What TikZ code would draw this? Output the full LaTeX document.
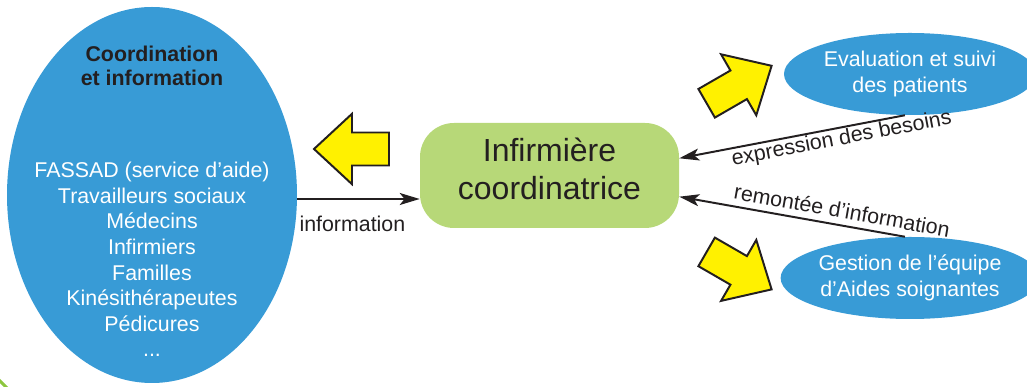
\documentclass[tikz,border=0pt]{standalone}
\usepackage{fontspec}
\setmainfont{Liberation Sans}
\usetikzlibrary{arrows.meta,shapes.geometric}
\definecolor{bleu}{RGB}{56,155,214}
\definecolor{vert}{RGB}{183,216,120}
\definecolor{jaune}{RGB}{255,241,0}
\definecolor{texte}{RGB}{35,31,32}
\definecolor{cadre}{RGB}{141,198,63}
\begin{document}
\begin{tikzpicture}[
	bulle/.style={ellipse, fill=bleu, inner sep=0pt, text=white, align=center, font=\fontsize{15.2pt}{18.5pt}\selectfont},
	titre/.style={anchor=north, inner sep=0pt, text=texte, align=center, font=\fontsize{15.2pt}{17.1pt}\selectfont\bfseries},
	liste/.style={anchor=north, inner sep=0pt, text=white, align=center, font=\fontsize{15.2pt}{18.2pt}\selectfont},
	boite/.style={rectangle, rounded corners=0.85cm, fill=vert, text=texte, align=center, minimum width=6.475cm, minimum height=2.625cm, font=\fontsize{22.75pt}{27.2pt}\selectfont},
	lien/.style={-{Stealth[length=0.5cm, width=0.3cm, inset=0.12cm]}, line width=1.4pt, texte},
	etiquette/.style={inner sep=2pt, text=texte, font=\fontsize{15.2pt}{18pt}\selectfont},
	grossefleche/.style={draw=texte, fill=jaune, line width=1.4pt, line join=miter}
	]
	\path[use as bounding box, clip] (0,0) rectangle (25.675,9.675);
	\draw[cadre, line width=0.075cm] (-0.05,0.2) -- (0.2,-0.05);
	\node[bulle, minimum width=7.25cm, minimum height=9.4cm] (coord) at (3.8,4.8) {};
	\node[titre] (titre) at (3.8,8.525) {Coordination\\et information};
	\node[liste] (membres) at (3.8,5.625) {FASSAD (service d’aide)\\Travailleurs sociaux\\Médecins\\Infirmiers\\Familles\\Kinésithérapeutes\\Pédicures\\...};
	\node[boite] (nurse) at (13.7375,5.2875) {Infirmière\\coordinatrice\rule[-0.35cm]{0pt}{0.35cm}};
	\node[bulle, minimum width=6.3cm, minimum height=2.05cm] (eval) at (22.75,7.825) {Evaluation et suivi\\des patients};
	\node[bulle, minimum width=6.3cm, minimum height=2.05cm] (team) at (22.75,2.725) {Gestion de l’équipe\\d’Aides soignantes};
	%
	\def\fleches {7.85/5.95/180, 19.29/8.03/30, 19.29/2.44/-30}  % pointe et angle
	\foreach \x/\y/\a in \fleches
	{	\draw[grossefleche, shift={(\x,\y)}, rotate=\a] (0,0) -- (-0.95,0.88) -- (-0.95,0.4125) -- (-1.875,0.4125) -- (-1.875,-0.4125) -- (-0.95,-0.4125) -- (-0.95,-0.88) -- cycle;
	}
	%
	\draw[lien] ([yshift=-0.1cm]coord.east) -- ([yshift=-0.1cm]coord.east -| nurse.west) node[etiquette, pos=0.45, below=0.33cm] {information};
	\draw[lien] (eval.-97) -- ([yshift=0.43cm]nurse.east) node[etiquette, pos=0.29, sloped, below=-0.05cm] {expression des besoins};
	\draw[lien] (team.97) -- ([yshift=-0.53cm]nurse.east) node[etiquette, pos=0.29, sloped, above=0.08cm] {remontée d’information};
	%
\end{tikzpicture}
\end{document}
